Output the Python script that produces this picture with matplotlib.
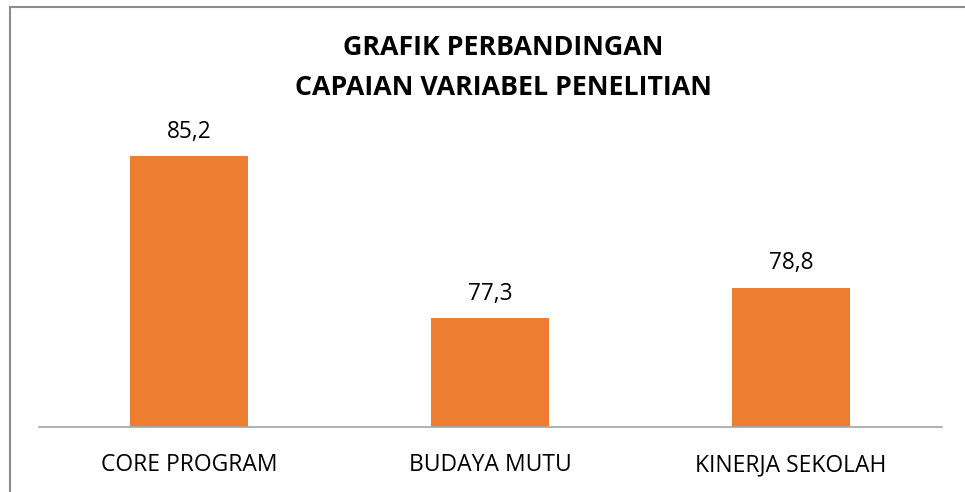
import matplotlib
matplotlib.use("Agg")
import matplotlib.pyplot as plt
from matplotlib.patches import Rectangle

categories = ["CORE PROGRAM", "BUDAYA MUTU", "KINERJA SEKOLAH"]
values = [85.2, 77.3, 78.8]
title = "GRAFIK PERBANDINGAN\nCAPAIAN VARIABEL PENELITIAN"

BAR_COLOR = "#ED7D31"
plt.rcParams["font.family"] = ["Open Sans", "DejaVu Sans"]

fig = plt.figure(figsize=(9.65, 4.92), dpi=100)
ax = fig.add_axes([38.5 / 965, 65 / 492, 903 / 965, 328 / 492])

x = range(len(categories))
bars = ax.bar(x, values, width=0.39, color=BAR_COLOR)
ax.set_xlim(-0.5, len(categories) - 0.5)
ax.set_ylim(72, 88)

for b, v in zip(bars, values):
    ax.annotate(f"{v:.1f}".replace(".", ","), (b.get_x() + b.get_width() / 2, v),
                xytext=(0, 9), textcoords="offset points", ha="center", va="bottom",
                fontsize=16.3, color="#000000")

for s in ["left", "right", "top"]:
    ax.spines[s].set_visible(False)
ax.spines["bottom"].set_color("#a6a6a6")
ax.spines["bottom"].set_linewidth(1.2)
ax.set_yticks([])
ax.set_xticks(list(x))
ax.set_xticklabels(categories, fontsize=16.5)
ax.tick_params(axis="x", length=0, pad=19)

fig.text(503 / 965, 1 - 68 / 492, title, ha="center", va="center", fontsize=19.3,
         fontweight="bold", linespacing=1.7)

# outer frame of the chart object
fig.patches.append(Rectangle((10 / 965, -0.1), 1.2, 1 - 7 / 492 + 0.1, transform=fig.transFigure,
                             fill=False, edgecolor="#8c8c8c", linewidth=1.5))

fig.savefig("out.png", dpi=100)
